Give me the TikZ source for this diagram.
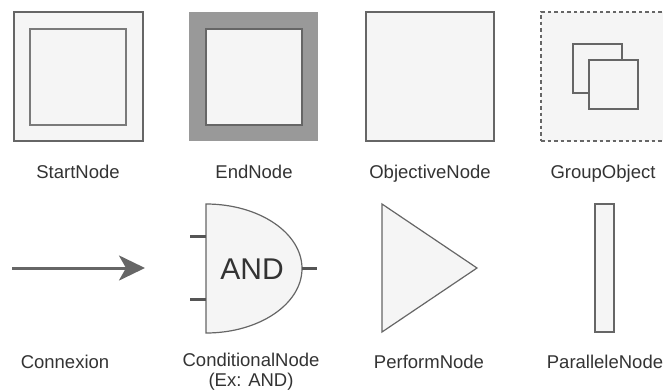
\documentclass[tikz,border=0pt]{standalone}
\usepackage{fontspec}
\setmainfont{Liberation Sans}
\usetikzlibrary{arrows.meta}
\definecolor{shapefill}{HTML}{F5F5F5}
\definecolor{shapeline}{HTML}{666666}
\definecolor{enddark}{HTML}{999999}
\definecolor{stubcol}{HTML}{555555}
\definecolor{labelcol}{HTML}{333333}
\begin{document}
\begin{tikzpicture}[x=1pt,y=-1pt,
  box/.style={draw=shapeline,fill=shapefill,line width=1.2pt,inner sep=0pt,outer sep=0pt},
  lbl/.style={text=labelcol,font=\fontsize{18.5}{23}\selectfont,align=center,inner sep=0pt,anchor=base},
  stub/.style={draw=stubcol,line width=3pt}]
\useasboundingbox (0,0) rectangle (663,391);
\begin{scope}
\clip (0,0) rectangle (663,391);
% StartNode
\node[box,minimum width=129pt,minimum height=129pt] (start) at (78.5,76.5) {};
\node[box,draw=enddark!80!black,minimum width=96pt,minimum height=96pt] (startin) at (78,77) {};
\node[lbl] (startlbl) at (78,178.5) {StartNode};
% EndNode
\node[fill=enddark,minimum width=129pt,minimum height=129pt,inner sep=0pt] (end) at (253.5,76.5) {};
\node[box,minimum width=96pt,minimum height=96pt] (endin) at (254,77) {};
\node[lbl] (endlbl) at (254,178.5) {EndNode};
% ObjectiveNode
\node[box,minimum width=128pt,minimum height=129pt] (obj) at (430,76.5) {};
\node[lbl] (objlbl) at (430,178.5) {ObjectiveNode};
% GroupObject
\node[draw=shapeline,fill=shapefill,dash pattern=on 3.5pt off 3pt,line width=1.2pt,minimum width=129pt,minimum height=129pt,inner sep=0pt] (grp) at (605.5,76.5) {};
\node[box,minimum width=49pt,minimum height=49pt] (grpa) at (597.5,68.5) {};
\node[box,minimum width=49pt,minimum height=49pt] (grpb) at (613.5,84.5) {};
\node[lbl] (grplbl) at (603,178.5) {GroupObject};
\end{scope}
% Connexion
\coordinate (cs) at (12,268);
\coordinate (ce) at (145,268);
\draw[draw=shapeline,line width=3pt,-{Stealth[length=26pt,width=25pt,inset=7pt]}] (cs) -- (ce);
\node[lbl] (conlbl) at (65,368.5) {Connexion};
% ConditionalNode
\draw[box] (206,204) arc[start angle=-90,end angle=90,x radius=96,y radius=64.5] -- cycle;
\coordinate (andc) at (252,269);
\node[text=labelcol,font=\fontsize{30}{34}\selectfont,inner sep=0pt] (andtxt) at (andc) {AND};
\coordinate (in1) at (190,236);
\coordinate (in1e) at (206,236);
\coordinate (in2) at (190,299);
\coordinate (in2e) at (206,299);
\coordinate (out) at (302,268);
\coordinate (oute) at (317,268);
\draw[stub] (in1) -- (in1e);
\draw[stub] (in2) -- (in2e);
\draw[stub] (out) -- (oute);
\node[lbl] (condlbl) at (251,366) {ConditionalNode};
\node[lbl] (condlbl2) at (251,386) {(Ex: AND)};
% PerformNode
\draw[box] (382,204) -- (477,268) -- (382,332) -- cycle;
\node[lbl] (perflbl) at (429,368.5) {PerformNode};
% ParalleleNode
\node[box,minimum width=19pt,minimum height=128pt] (par) at (604.5,268) {};
\node[lbl] (parlbl) at (605,368.5) {ParalleleNode};
\end{tikzpicture}
\end{document}
